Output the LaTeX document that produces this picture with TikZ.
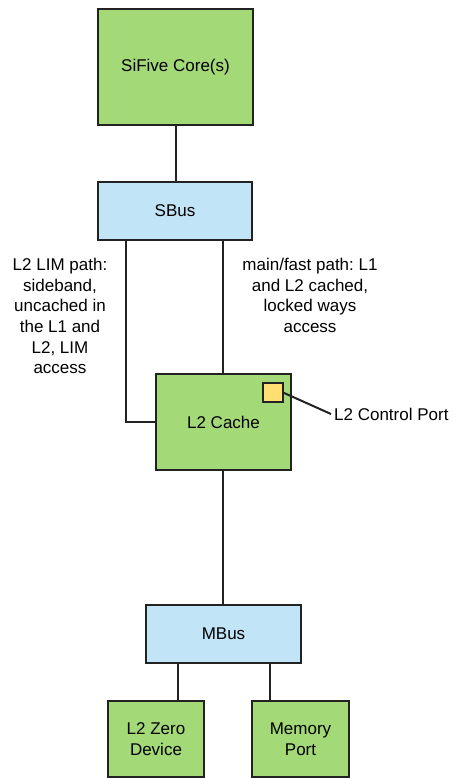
\documentclass[tikz,border=0pt]{standalone}
\usepackage{fontspec}
\setmainfont{Liberation Sans}
\frenchspacing
\definecolor{boxgreen}{HTML}{A3D977}
\definecolor{boxblue}{HTML}{C1E4F7}
\definecolor{boxyellow}{HTML}{FFDF71}
\definecolor{edge}{HTML}{222222}
\begin{document}
\begin{tikzpicture}[x=1pt,y=-1pt,
  every node/.style={font=\fontsize{17}{20.7}\selectfont},
  blk/.style={draw=edge, line width=2pt, inner sep=0pt, outer sep=0pt, align=center},
  gblk/.style={blk, fill=boxgreen},
  bblk/.style={blk, fill=boxblue},
  conn/.style={draw=edge, line width=2pt},
  lbl/.style={align=center, inner sep=0pt}]
\useasboundingbox (0,0) rectangle (452,778);
\fill[white] (0,0) rectangle (452,778);
\node[gblk, minimum width=155pt, minimum height=116pt] (core) at (175.5,67) {SiFive Core(s)};
\node[bblk, minimum width=154pt, minimum height=58pt] (sbus) at (175,211) {SBus};
\node[gblk, minimum width=135pt, minimum height=96pt] (l2) at (223.5,422) {L2 Cache};
\node[blk, fill=boxyellow, minimum width=20pt, minimum height=19pt] (port) at (273,392.5) {};
\node[anchor=west, inner sep=3pt] (ctrl) at (331,414) {L2 Control Port};
\node[bblk, minimum width=155pt, minimum height=58pt] (mbus) at (223.5,634) {MBus};
\node[gblk, minimum width=96pt, minimum height=76pt] (zero) at (156,739) {L2 Zero\\Device};
\node[gblk, minimum width=97pt, minimum height=76pt] (mem) at (300.5,739) {Memory\\Port};
\node[lbl] (lim) at (60,316) {L2 LIM path:\\sideband,\\uncached in\\the L1 and\\L2, LIM\\access};
\node[lbl] (fast) at (310,295.5) {main/fast path: L1\\and L2 cached,\\locked ways\\access};
\coordinate (c1) at ([xshift=0.5pt]core.south);
\coordinate (s1) at ([xshift=-49pt]sbus.south);
\coordinate (l2n) at ([xshift=-0.5pt]l2.north);
\coordinate (l2s) at ([xshift=-0.5pt]l2.south);
\coordinate (z1) at ([xshift=22pt]zero.north);
\coordinate (m1) at ([xshift=-30.5pt]mem.north);
\draw[conn] (c1) -- (c1 |- sbus.north);
\draw[conn] (s1) |- (l2.west);
\draw[conn] (l2n) -- (l2n |- sbus.south);
\draw[conn] (l2s) -- (l2s |- mbus.north);
\draw[conn] (z1) -- (z1 |- mbus.south);
\draw[conn] (m1) -- (m1 |- mbus.south);
\draw[conn] (port.east) -- (ctrl.west);
\end{tikzpicture}
\end{document}
